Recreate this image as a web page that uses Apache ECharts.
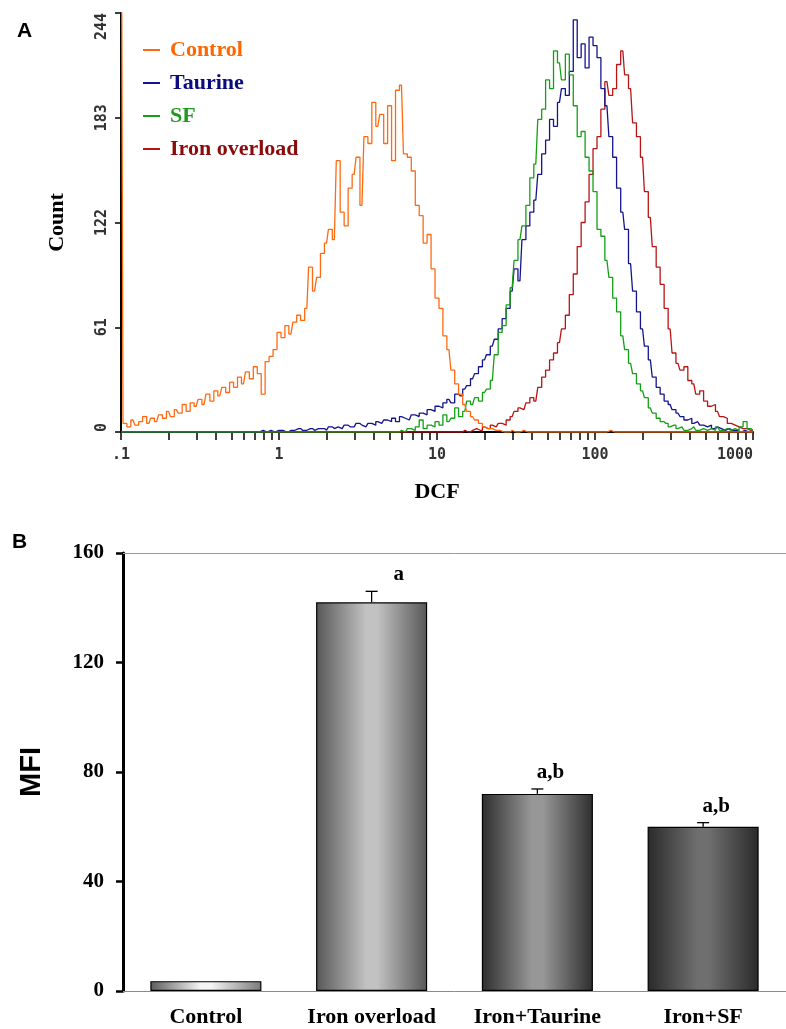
<!DOCTYPE html>
<html>
<head>
    <meta charset="UTF-8">
    <title>DCF histogram and MFI</title>
    <script type="text/javascript" src="https://cdn.jsdelivr.net/npm/echarts@6.0.0/dist/echarts.min.js"></script>
</head>
<body style="margin: 0;overflow: hidden;background: #fff;width: 786px;height: 1029px;">
<div id="chart" style="width: 786px;height: 1029px"></div>
<script type="text/javascript">
    // panel A: DCF channels (log spaced)
    var dcf = [0.1, 0.106, 0.112, 0.119, 0.126, 0.133, 0.141, 0.15, 0.158, 0.168,
        0.178, 0.188, 0.2, 0.211, 0.224, 0.237, 0.251, 0.266, 0.282, 0.299,
        0.316, 0.335, 0.355, 0.376, 0.398, 0.422, 0.447, 0.473, 0.501, 0.531,
        0.562, 0.596, 0.631, 0.668, 0.708, 0.75, 0.794, 0.841, 0.891, 0.944,
        1, 1.06, 1.12, 1.19, 1.26, 1.33, 1.41, 1.5, 1.58, 1.68,
        1.78, 1.88, 2, 2.11, 2.24, 2.37, 2.51, 2.66, 2.82, 2.99,
        3.16, 3.35, 3.55, 3.76, 3.98, 4.22, 4.47, 4.73, 5.01, 5.31,
        5.62, 5.96, 6.31, 6.68, 7.08, 7.5, 7.94, 8.41, 8.91, 9.44,
        10, 10.6, 11.2, 11.9, 12.6, 13.3, 14.1, 15, 15.8, 16.8,
        17.8, 18.8, 20, 21.1, 22.4, 23.7, 25.1, 26.6, 28.2, 29.9,
        31.6, 33.5, 35.5, 37.6, 39.8, 42.2, 44.7, 47.3, 50.1, 53.1,
        56.2, 59.6, 63.1, 66.8, 70.8, 75, 79.4, 84.1, 89.1, 94.4,
        100, 106, 112, 119, 126, 133, 141, 150, 158, 168,
        178, 188, 200, 211, 224, 237, 251, 266, 282, 299,
        316, 335, 355, 376, 398, 422, 447, 473, 501, 531,
        562, 596, 631, 668, 708, 750, 794, 841, 891, 944,
        1000];

    var countControl = [400, 5, 3, 7, 4, 6, 9, 5, 8, 6,
        10, 8, 12, 9, 13, 11, 16, 12, 17, 15,
        19, 16, 22, 18, 24, 21, 26, 23, 29, 26,
        32, 28, 35, 31, 38, 34, 22, 41, 44, 48,
        58, 55, 62, 57, 64, 68, 65, 72, 96, 82,
        90, 104, 110, 118, 112, 158, 128, 120, 142, 150,
        160, 132, 172, 168, 192, 178, 185, 168, 190, 158,
        199, 202, 162, 160, 152, 132, 126, 110, 115, 95,
        78, 72, 56, 48, 36, 28, 22, 16, 12, 9,
        7, 5, 3, 2, 2, 1, 1, 0, 0, 1,
        0, 0, 1, 0, 0, 0, 0, 0, 0, 0,
        0, 0, 0, 0, 0, 0, 0, 0, 0, 0,
        0, 0, 0, 0, 1, 0, 0, 0, 0, 0,
        0, 0, 0, 0, 0, 0, 0, 0, 0, 0,
        0, 0, 0, 0, 0, 0, 0, 0, 0, 0,
        0, 0, 0, 0, 0, 0, 0, 0, 0, 0,
        0];
    var countTaurine = [0, 0, 0, 0, 0, 0, 0, 0, 0, 0,
        0, 0, 0, 0, 0, 0, 0, 0, 0, 0,
        0, 0, 0, 0, 0, 0, 0, 0, 0, 0,
        0, 0, 0, 0, 0, 0, 1, 0, 1, 0,
        1, 1, 0, 1, 1, 2, 1, 1, 2, 1,
        2, 2, 1, 3, 2, 3, 2, 4, 3, 3,
        5, 4, 3, 5, 4, 6, 5, 7, 6, 8,
        6, 9, 8, 7, 10, 9, 11, 10, 13, 12,
        15, 14, 17, 19, 17, 22, 21, 25, 27, 31,
        34, 38, 42, 45, 50, 54, 60, 66, 72, 82,
        95, 88, 112, 120, 128, 135, 150, 162, 170, 182,
        178, 192, 200, 196, 210, 240, 218, 226, 212, 230,
        225, 218, 200, 190, 172, 160, 142, 128, 118, 98,
        82, 70, 60, 50, 42, 32, 26, 22, 18, 16,
        13, 11, 9, 7, 8, 5, 6, 4, 3, 4,
        2, 3, 2, 1, 2, 1, 1, 0, 1, 0,
        0];
    var countSF = [0, 0, 0, 0, 0, 0, 0, 0, 0, 0,
        0, 0, 0, 0, 0, 0, 0, 0, 0, 0,
        0, 0, 0, 0, 0, 0, 0, 0, 0, 0,
        0, 0, 0, 0, 0, 0, 0, 0, 0, 0,
        0, 0, 0, 0, 0, 0, 0, 0, 0, 0,
        0, 0, 0, 0, 0, 0, 0, 0, 0, 0,
        0, 0, 0, 0, 0, 0, 0, 0, 0, 0,
        0, 1, 0, 2, 1, 3, 7, 2, 4, 3,
        6, 4, 10, 6, 8, 14, 9, 12, 18, 16,
        20, 18, 23, 25, 30, 45, 58, 62, 74, 84,
        100, 112, 120, 132, 148, 156, 182, 188, 205, 200,
        222, 215, 205, 220, 208, 190, 172, 175, 160, 152,
        140, 118, 114, 100, 90, 78, 70, 56, 48, 40,
        34, 28, 24, 20, 14, 11, 8, 6, 5, 3,
        4, 2, 3, 1, 2, 3, 1, 2, 1, 2,
        1, 3, 1, 2, 1, 2, 1, 3, 6, 2,
        1];
    var countIron = [0, 0, 0, 0, 0, 0, 0, 0, 0, 0,
        0, 0, 0, 0, 0, 0, 0, 0, 0, 0,
        0, 0, 0, 0, 0, 0, 0, 0, 0, 0,
        0, 0, 0, 0, 0, 0, 0, 0, 0, 0,
        0, 0, 0, 0, 0, 0, 0, 0, 0, 0,
        0, 0, 0, 0, 0, 0, 0, 0, 0, 0,
        0, 0, 0, 0, 0, 0, 0, 0, 0, 0,
        0, 0, 0, 0, 0, 0, 0, 0, 0, 0,
        0, 0, 0, 0, 0, 0, 0, 1, 0, 1,
        2, 1, 3, 2, 4, 3, 5, 4, 7, 9,
        12, 14, 13, 17, 20, 18, 26, 32, 36, 42,
        46, 52, 60, 68, 80, 92, 108, 122, 134, 150,
        165, 172, 188, 204, 196, 200, 214, 222, 208, 200,
        180, 172, 160, 140, 125, 108, 96, 86, 72, 60,
        46, 40, 36, 38, 30, 28, 22, 24, 18, 15,
        16, 12, 9, 8, 5, 4, 3, 2, 2, 1,
        1];

    var xLabels = [0.1, 1, 10, 100, 1000];
    var xTicks = [0.1, 0.2, 0.3, 0.4, 0.5, 0.6, 0.7, 0.8, 0.9,
        1, 2, 3, 4, 5, 6, 7, 8, 9,
        10, 20, 30, 40, 50, 60, 70, 80, 90,
        100, 200, 300, 400, 500, 600, 700, 800, 900, 1000];

    // panel B: mean fluorescence intensity
    var groups = ['Control', 'Iron overload', 'Iron+Taurine', 'Iron+SF'];
    var mfi = [3.6, 142, 72, 60];
    var mfiErr = [0, 4, 1.8, 1.5];
    var marks = ['', 'a', 'a,b', 'a,b'];

    var serif = '"Liberation Serif", "Times New Roman", serif';
    var mono = '"DejaVu Sans Mono", monospace';
    var sans = '"Liberation Sans", Arial, sans-serif';

    var names = ['Control', 'Taurine', 'SF', 'Iron overload'];
    var lineColors = ['#ff6a10', '#14148f', '#14a014', '#b81414'];
    var textColors = ['#ff6600', '#0b0b80', '#1f9a1f', '#8b0b0b'];
    var counts = [countControl, countTaurine, countSF, countIron];

    // bar shading, edge-centre-edge
    var shades = [
        ['#5c5c5c', '#f4f4f4', '#7a7a7a'],
        ['#575757', '#c2c2c2', '#575757'],
        ['#2e2e2e', '#979797', '#2e2e2e'],
        ['#2a2a2a', '#6f6f6f', '#2a2a2a']
    ];
    var markDx = [0, 27, 13, 13];

    function pairs(ys) {
        return dcf.map(function (x, i) {
            return [x, ys[i]];
        });
    }

    var lineSeries = [];
    [3, 1, 2, 0].forEach(function (k) {
        lineSeries.push({
            name: names[k],
            type: 'line',
            xAxisIndex: 0,
            yAxisIndex: 0,
            step: 'middle',
            showSymbol: false,
            symbol: 'none',
            clip: true,
            color: lineColors[k],
            lineStyle: {width: 1.3, color: lineColors[k]},
            data: pairs(counts[k])
        });
    });

    var barData = mfi.map(function (v, i) {
        var s = shades[i];
        return {
            value: v,
            itemStyle: {
                color: new echarts.graphic.LinearGradient(0, 0, 1, 0, [
                    {offset: 0, color: s[0]},
                    {offset: 0.45, color: s[1]},
                    {offset: 0.55, color: s[1]},
                    {offset: 1, color: s[2]}
                ])
            }
        };
    });

    var errData = mfi.map(function (v, i) {
        return [i, v, mfiErr[i]];
    });

    function renderErr(params, api) {
        var i = params.dataIndex;
        var base = api.coord([api.value(0), api.value(1)]);
        var top = api.coord([api.value(0), api.value(1) + api.value(2)]);
        var children = [];
        if (api.value(2) > 0) {
            children.push({
                type: 'line',
                shape: {x1: top[0], y1: base[1], x2: top[0], y2: top[1]},
                style: {stroke: '#000', lineWidth: 1.3}
            });
            children.push({
                type: 'line',
                shape: {x1: top[0] - 6, y1: top[1], x2: top[0] + 6, y2: top[1]},
                style: {stroke: '#000', lineWidth: 1.3}
            });
        }
        if (marks[i]) {
            children.push({
                type: 'text',
                x: top[0] + markDx[i],
                y: top[1] - 6,
                style: {
                    text: marks[i],
                    font: 'bold 21px ' + serif,
                    fill: '#000',
                    align: 'center',
                    verticalAlign: 'bottom'
                }
            });
        }
        return {type: 'group', children: children};
    }

    var chart = echarts.init(document.getElementById('chart'), null, {renderer: 'canvas'});
    var option = {
        backgroundColor: '#fff',
        animation: false,
        title: [
            {text: 'A', left: 12, top: 16, textStyle: {fontFamily: sans, fontWeight: 'bold', fontSize: 21, color: '#000'}},
            {text: 'B', left: 7, top: 527, textStyle: {fontFamily: sans, fontWeight: 'bold', fontSize: 21, color: '#000'}}
        ],
        legend: {
            left: 138,
            top: 34,
            orient: 'vertical',
            itemGap: 11,
            icon: 'rect',
            itemWidth: 17,
            itemHeight: 2,
            textStyle: {fontFamily: serif, fontWeight: 'bold', fontSize: 22, padding: [0, 0, 0, 5]},
            data: names.map(function (n, i) {
                return {name: n, textStyle: {color: textColors[i]}};
            })
        },
        grid: [
            {left: 121, right: 33, top: 13, bottom: 597},
            {left: 123, right: 0, top: 553, bottom: 38}
        ],
        xAxis: [{
            gridIndex: 0,
            type: 'log',
            logBase: 10,
            min: 0.1,
            max: 1000,
            name: 'DCF',
            nameLocation: 'middle',
            nameGap: 49,
            nameTextStyle: {fontFamily: serif, fontWeight: 'bold', fontSize: 22, color: '#000'},
            axisLine: {show: true, onZero: false, lineStyle: {color: '#000', width: 2}},
            axisTick: {show: true, length: 8, customValues: xTicks, lineStyle: {color: '#000', width: 1.5}},
            axisLabel: {
                customValues: xLabels,
                margin: 16,
                fontFamily: mono,
                fontWeight: 'bold',
                fontSize: 15,
                color: '#333',
                alignMaxLabel: 'right',
                formatter: function (v) {
                    return v < 1 ? '.1' : String(Math.round(v));
                }
            },
            splitLine: {show: false}
        }, {
            gridIndex: 1,
            type: 'category',
            data: groups,
            axisLine: {show: true, lineStyle: {color: '#8a8a8a', width: 1}},
            axisTick: {show: false},
            axisLabel: {interval: 0, margin: 15, fontFamily: serif, fontWeight: 'bold', fontSize: 22, color: '#000'}
        }, {
            gridIndex: 1,
            type: 'category',
            position: 'top',
            data: groups,
            axisLine: {show: true, lineStyle: {color: '#9a9a9a', width: 1}},
            axisTick: {show: false},
            axisLabel: {show: false}
        }],
        yAxis: [{
            gridIndex: 0,
            type: 'value',
            min: 0,
            max: 244,
            interval: 61,
            name: 'Count',
            nameLocation: 'middle',
            nameGap: 53,
            nameRotate: 90,
            nameTextStyle: {fontFamily: serif, fontWeight: 'bold', fontSize: 22, color: '#000'},
            axisLine: {show: true, onZero: false, lineStyle: {color: '#000', width: 2}},
            axisTick: {show: true, length: 6, lineStyle: {color: '#000', width: 1.5}},
            axisLabel: {
                rotate: 90,
                margin: 11,
                fontFamily: mono,
                fontWeight: 'bold',
                fontSize: 15,
                color: '#333',
                alignMinLabel: 'left',
                alignMaxLabel: 'right'
            },
            splitLine: {show: false}
        }, {
            gridIndex: 1,
            type: 'value',
            min: 0,
            max: 160,
            interval: 40,
            name: 'MFI',
            nameLocation: 'middle',
            nameGap: 77,
            nameRotate: 90,
            nameTextStyle: {fontFamily: sans, fontWeight: 'bold', fontSize: 29, color: '#000'},
            axisLine: {show: true, lineStyle: {color: '#000', width: 3}},
            axisTick: {show: true, length: 7, lineStyle: {color: '#000', width: 2.5}},
            axisLabel: {margin: 19, fontFamily: serif, fontWeight: 'bold', fontSize: 21, color: '#000'},
            splitLine: {show: false}
        }],
        series: lineSeries.concat([{
            name: 'MFI',
            type: 'bar',
            xAxisIndex: 1,
            yAxisIndex: 1,
            barWidth: '67%',
            itemStyle: {borderColor: '#000', borderWidth: 1.2},
            data: barData
        }, {
            type: 'custom',
            xAxisIndex: 1,
            yAxisIndex: 1,
            renderItem: renderErr,
            z: 5,
            data: errData
        }])
    };
    chart.setOption(option);
</script>
</body>
</html>
